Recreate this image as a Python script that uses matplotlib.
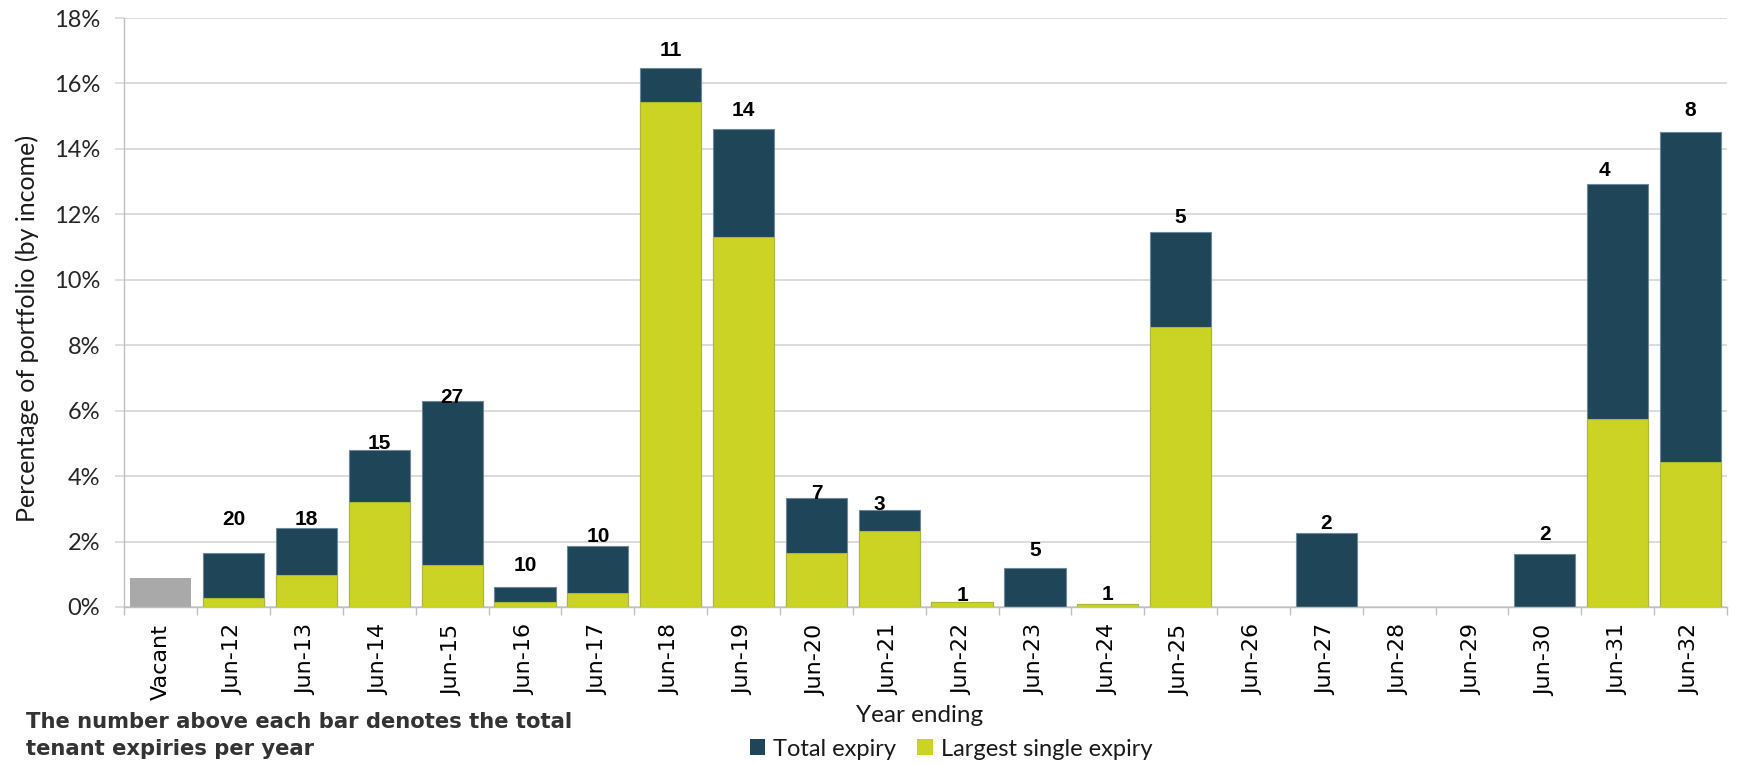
import numpy as np
import matplotlib
matplotlib.use("Agg")
import matplotlib.pyplot as plt
from matplotlib.patches import Patch
from matplotlib.ticker import FixedLocator, FuncFormatter

# ---- data (percent of portfolio income) ----
categories = ["Vacant", "Jun-12", "Jun-13", "Jun-14", "Jun-15", "Jun-16", "Jun-17",
              "Jun-18", "Jun-19", "Jun-20", "Jun-21", "Jun-22", "Jun-23", "Jun-24",
              "Jun-25", "Jun-26", "Jun-27", "Jun-28", "Jun-29", "Jun-30", "Jun-31",
              "Jun-32"]
vacant_share = 0.89
total_expiry = [1.64, 2.40, 4.81, 6.30, 0.60, 1.85, 16.48, 14.61, 3.34, 2.96, 0.14,
                1.18, 0.10, 11.46, 0.0, 2.27, 0.0, 0.0, 1.62, 12.93, 14.53]
largest_single = [0.27, 0.98, 3.20, 1.27, 0.16, 0.42, 15.42, 11.30, 1.64, 2.32, 0.14,
                  0.0, 0.10, 8.57, 0.0, 0.0, 0.0, 0.0, 0.0, 5.75, 4.43]
expiry_counts = [20, 18, 15, 27, 10, 10, 11, 14, 7, 3, 1, 5, 1, 5, None, 2, None, None,
                 2, 4, 8]
y_ticks = [0, 2, 4, 6, 8, 10, 12, 14, 16, 18]

# label nudges in pixels (dx, height of label centre above the bar top)
label_nudge = [(0, 34), (0, 9), (0, 6), (0, 3.5), (0, 21.5), (0, 10), (0, 17.7),
               (0, 18.2), (0, 4), (-10, 6), (0, 6.5), (0, 18), (0, 9), (0, 14.5),
               (0, 0), (0, 9), (0, 0), (0, 0), (0, 19), (-13, 13), (0, 21)]

NAVY = "#1f4559"
NAVY_EDGE = "#6d8997"
LIME = "#cbd324"
LIME_EDGE = "#aeb53c"
GREY = "#a9a9a9"
GRID = "#d9d9d9"
AXIS = "#bfbfbf"

fig = plt.figure(figsize=(17.37, 7.64), dpi=100)
ax = fig.add_axes([0.07156, 0.2055, 0.9227, 0.7709])

W = 0.84
x = np.arange(len(categories))
xs = x[1:]

ax.bar(0, vacant_share, W, color=GREY, zorder=2)

tot = np.array(total_expiry)
big = np.array(largest_single)
m = tot > 0
ax.bar(xs[m], tot[m], W, color=NAVY, edgecolor=NAVY_EDGE, linewidth=0.8, zorder=2)
m2 = big > 0
ax.bar(xs[m2], big[m2], W, color=LIME, edgecolor=LIME_EDGE, linewidth=0.8, zorder=3)

px = 72.0 / 100.0
for xi, t, n, (dx, dy) in zip(xs, total_expiry, expiry_counts, label_nudge):
    if n is None:
        continue
    ax.annotate(str(n), xy=(xi, t), xytext=(dx * px, dy * px), textcoords="offset points",
                ha="center", va="center", fontsize=15, fontweight="bold",
                family="Liberation Sans", color="black", zorder=5)

# axes styling
ax.set_xlim(-0.5, len(categories) - 0.5)
ax.set_ylim(0, 18)
for s in ("top", "right"):
    ax.spines[s].set_visible(False)
ax.spines["left"].set_color(AXIS)
ax.spines["bottom"].set_color(AXIS)
ax.spines["left"].set_linewidth(1.0)
ax.spines["bottom"].set_linewidth(1.0)

ax.yaxis.set_major_locator(FixedLocator(y_ticks))
ax.yaxis.set_major_formatter(FuncFormatter(lambda v, p: f"{v:.0f}%"))
ax.grid(axis="y", color=GRID, linewidth=1.3, zorder=0)
ax.set_axisbelow(True)
ax.tick_params(axis="y", length=6.5, width=1.2, color=GRID, pad=11,
               labelsize=17, labelcolor="#262626")
for lab in ax.get_yticklabels():
    lab.set_family("Lato")

ax.set_xticks(x)
ax.set_xticklabels(categories, rotation=90, family="DejaVu Sans", fontsize=16,
                   color="black")
ax.tick_params(axis="x", which="major", length=0, pad=12.5)
ax.set_xticks(np.arange(-0.5, len(categories), 1.0), minor=True)
ax.tick_params(axis="x", which="minor", length=6, width=1.0, color=AXIS)

# axis titles
fig.text(27 / 1737, 1 - 328 / 764, "Percentage of portfolio (by income)", rotation=90,
         ha="center", va="center", family="Lato", fontsize=18, color="#1a1a1a")
fig.text(920 / 1737, 1 - 722 / 764, "Year ending", ha="center", va="baseline",
         family="Lato", fontsize=17.5, color="#1a1a1a")

# footnote
fig.text(26 / 1737, 1 - 728 / 764, "The number above each bar denotes the total",
         ha="left", va="baseline", family="DejaVu Sans", fontweight="bold",
         fontsize=15.2, color="#333333")
fig.text(26 / 1737, 1 - 755 / 764, "tenant expiries per year",
         ha="left", va="baseline", family="DejaVu Sans", fontweight="bold",
         fontsize=15.2, color="#333333")

# legend
handles = [Patch(facecolor=NAVY, edgecolor="none", label="Total expiry"),
           Patch(facecolor=LIME, edgecolor="none", label="Largest single expiry")]
fig.legend(handles=handles, loc="center", bbox_to_anchor=(951 / 1737, 1 - 749 / 764),
           ncol=2, frameon=False, prop={"family": "Lato", "size": 17},
           handlelength=0.65, handleheight=0.65, handletextpad=0.35,
           columnspacing=0.9, borderpad=0, labelcolor="#1a1a1a")

fig.savefig("out.png", dpi=100)
